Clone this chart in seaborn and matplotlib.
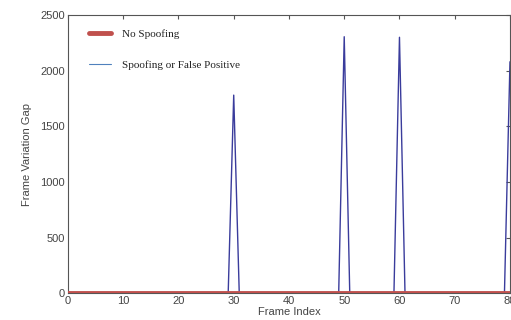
import numpy as np
import pandas as pd
import matplotlib
matplotlib.use("Agg")
import matplotlib.pyplot as plt
import seaborn as sns

frame_index = list(range(0, 81))
spike_frames = [30, 50, 60, 80]
spike_values = [1780, 2305, 2300, 2080]

spoof = [0.0] * len(frame_index)
for f, v in zip(spike_frames, spike_values):
    spoof[f] = v
no_spoof = [0.0] * len(frame_index)

df = pd.DataFrame({"Frame Index": frame_index,
                   "No Spoofing": no_spoof,
                   "Spoofing or False Positive": spoof})

sns.set_style("white")
plt.rcParams['font.family'] = ['Liberation Sans', 'DejaVu Sans']

fig = plt.figure(figsize=(5.11, 3.20), dpi=100)
ax = fig.add_axes([0.133, 0.084, 0.865, 0.869])

sns.lineplot(data=df, x="Frame Index", y="Spoofing or False Positive", ax=ax,
             color="#3a3c9c", linewidth=1.0, label="Spoofing or False Positive", zorder=2)
sns.lineplot(data=df, x="Frame Index", y="No Spoofing", ax=ax,
             color="#c0504d", linewidth=3.5, label="No Spoofing", zorder=3)

ax.set_xlim(0, 80)
ax.set_ylim(0, 2500)
ax.set_xticks(range(0, 81, 10))
ax.set_yticks(range(0, 2501, 500))
ax.tick_params(direction="in", top=True, right=True, length=3, width=0.8,
               labelsize=8, colors="#555555", labelcolor="#444444", pad=2)
for s in ax.spines.values():
    s.set_color("#555555")
    s.set_linewidth(0.8)

ax.set_xlabel("Frame Index", fontsize=8, color="#444444", labelpad=1)
ax.set_ylabel("Frame Variation Gap", fontsize=8, color="#444444", labelpad=6)

handles, labels = ax.get_legend_handles_labels()
order = [1, 0]
leg = ax.legend([handles[i] for i in order], [labels[i] for i in order],
                loc="upper left", frameon=False, bbox_to_anchor=(0.025, 0.985),
                prop={"family": "Liberation Serif", "size": 8},
                handlelength=2.0, labelspacing=1.9, handletextpad=1.0)
leg.get_lines()[1].set_color("#4f81bd")
leg.get_lines()[1].set_linewidth(0.8)
for t in leg.get_texts():
    t.set_color("#222222")

fig.savefig("out.png", dpi=100)
